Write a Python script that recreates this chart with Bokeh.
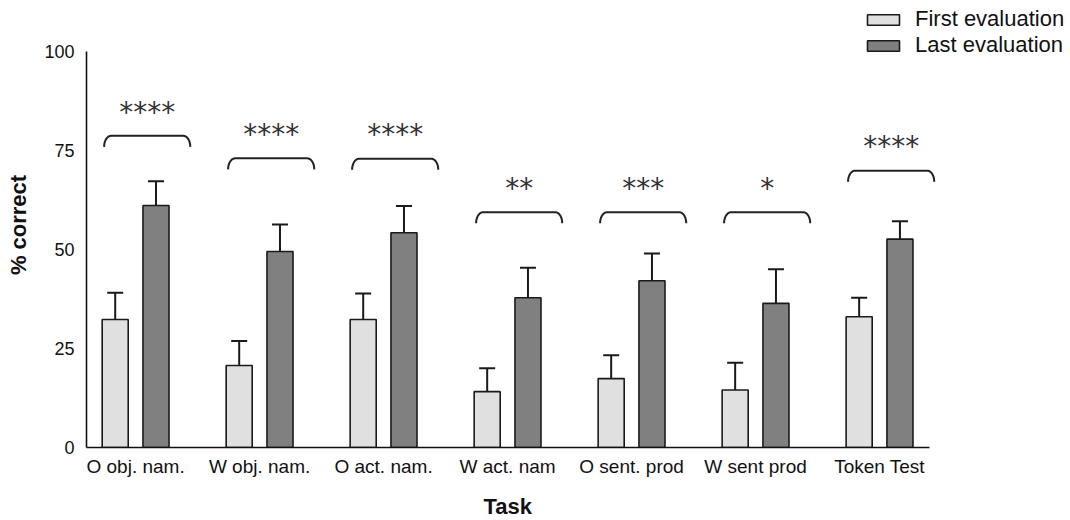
import numpy as np
from bokeh.plotting import figure
from bokeh.models import (ColumnDataSource, Range1d, FixedTicker, Whisker, TeeHead,
                          Legend, LegendItem, Title)
from bokeh.core.properties import value
from bokeh.embed import file_html
from bokeh.resources import INLINE

# ---------------- data ----------------
tasks = ["O obj. nam.", "W obj. nam.", "O act. nam.", "W act. nam",
         "O sent. prod", "W sent prod", "Token Test"]
first_eval = [32.3, 20.7, 32.3, 14.1, 17.4, 14.5, 33.0]
first_sem = [6.8, 6.2, 6.6, 5.9, 5.9, 6.9, 4.8]
last_eval = [61.1, 49.5, 54.2, 37.8, 42.1, 36.4, 52.6]
last_sem = [6.1, 6.8, 6.8, 7.6, 6.9, 8.6, 4.5]
significance = ["****", "****", "****", "**", "***", "*", "****"]
bracket_level = [78.7, 73.0, 72.9, 59.4, 59.4, 59.4, 69.9]
y_ticks = [0, 25, 50, 75, 100]

# ---------------- styles ----------------
FONT = "Liberation Sans"
LIGHT = "#e0e0e0"
DARK = "#808080"
EDGE = "#1a1a1a"
OFFSET = 0.1645
BAR_W = 0.21
BR_L, BR_R = -0.254, 0.441

n = len(tasks)
gx = np.arange(n, dtype=float)

p = figure(width=1070, height=520, output_backend="svg", toolbar_location=None,
           x_range=Range1d(-0.396, 7.540), y_range=Range1d(0, 112.35),
           min_border_left=86, min_border_right=0, min_border_top=2,
           min_border_bottom=72)
p.outline_line_color = None
p.grid.grid_line_color = None
p.background_fill_color = "white"

src_first = ColumnDataSource(dict(x=gx - OFFSET, top=first_eval,
                                  upper=np.array(first_eval) + np.array(first_sem)))
src_last = ColumnDataSource(dict(x=gx + OFFSET, top=last_eval,
                                 upper=np.array(last_eval) + np.array(last_sem)))

# error bars (upward only)
for src in (src_first, src_last):
    w = Whisker(source=src, base="x", lower="top", upper="upper",
                line_color=EDGE, line_width=2,
                upper_head=TeeHead(size=16, line_color=EDGE, line_width=2),
                lower_head=None, level="underlay")
    p.add_layout(w)

r1 = p.vbar(x="x", top="top", width=BAR_W, source=src_first,
            fill_color=LIGHT, line_color=EDGE, line_width=1.6)
r2 = p.vbar(x="x", top="top", width=BAR_W, source=src_last,
            fill_color=DARK, line_color=EDGE, line_width=1.6)

# significance brackets
rx = 7.0 / 124.0     # corner width in x units
ry = 11.0 / 3.94     # corner drop in y units
t = np.linspace(0, np.pi / 2, 12)
xs, ys = [], []
for i in range(n):
    x0 = gx[i] + BR_L
    x1 = gx[i] + BR_R
    yb = bracket_level[i]
    left_x = x0 + rx - rx * np.cos(t)
    left_y = yb - ry + ry * np.sin(t)
    right_x = (x1 - rx + rx * np.cos(t))[::-1]
    right_y = (yb - ry + ry * np.sin(t))[::-1]
    xs.append(np.concatenate([left_x, right_x]).tolist())
    ys.append(np.concatenate([left_y, right_y]).tolist())
p.multi_line(xs=xs, ys=ys, line_color="#222222", line_width=2)

p.text(x=gx + (BR_L + BR_R) / 2, y=np.array(bracket_level) + 6.0, text=significance,
       text_align="center", text_baseline="middle", text_font=value("DejaVu Sans"),
       text_font_size="28px", text_color="#333333")

# axes
p.yaxis.ticker = FixedTicker(ticks=y_ticks)
p.yaxis.bounds = (0, 100)
p.yaxis.major_tick_out = 7
p.yaxis.major_tick_in = 0
p.yaxis.minor_tick_line_color = None
p.yaxis.major_label_standoff = 5
p.yaxis.axis_label = "% correct"
p.yaxis.axis_label_standoff = 10

p.xaxis.ticker = FixedTicker(ticks=list(range(n)))
p.xaxis.major_label_overrides = {i: t_ for i, t_ in enumerate(tasks)}
p.xaxis.bounds = (-0.396, 6.40)
p.xaxis.major_tick_out = 0
p.xaxis.major_tick_in = 0
p.xaxis.minor_tick_line_color = None
p.xaxis.major_label_standoff = 8

for ax in (p.xaxis, p.yaxis):
    ax.axis_line_color = "#111111"
    ax.axis_line_width = 1.6
    ax.major_tick_line_color = "#111111" if ax is p.yaxis else None
    ax.major_tick_line_width = 1.6
    ax.major_label_text_font = FONT
    ax.major_label_text_color = "#111111"
    ax.axis_label_text_font = FONT
    ax.axis_label_text_font_size = "22px"
    ax.axis_label_text_font_style = "bold"
    ax.axis_label_text_color = "#111111"
p.yaxis.major_label_text_font_size = "18px"
p.xaxis.major_label_text_font_size = "19px"

# blank spacer label under the x tick labels, so the title sits lower
p.xaxis.axis_label = " "
p.xaxis.axis_label_text_font_size = "8px"
p.xaxis.axis_label_standoff = 2

# x-axis title, centred under the axis line rather than the whole frame
task_title = Title(text="Task", align="left", offset=397, standoff=0,
                   vertical_align="top",
                   text_font=FONT, text_font_size="22px", text_font_style="bold",
                   text_color="#111111")
p.add_layout(task_title, "below")

legend = Legend(items=[LegendItem(label="First evaluation", renderers=[r1]),
                       LegendItem(label="Last evaluation", renderers=[r2])],
                location=(777, 389), orientation="vertical",
                glyph_width=40, glyph_height=13, label_standoff=12,
                label_text_font=FONT, label_text_font_size="22px",
                label_text_color="#111111", label_height=20, spacing=0,
                padding=0, margin=0, border_line_color=None,
                background_fill_alpha=0)
p.add_layout(legend)

open("out.html", "w").write(file_html(p, INLINE))
